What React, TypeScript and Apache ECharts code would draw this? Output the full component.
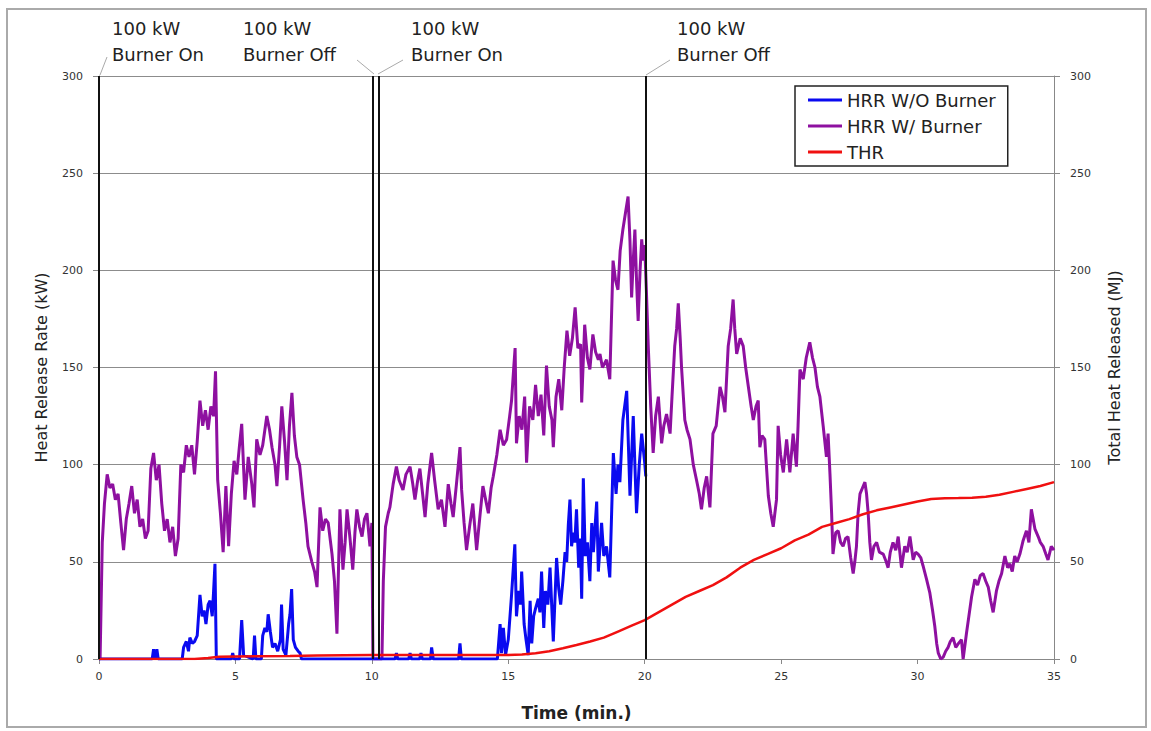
import React, { useEffect, useRef } from "react";
import * as echarts from "echarts";

// ---- Data (time in minutes) ----
const hrrWithBurner: [number, number][] = [
  [0, 0], [0.04, 0], [0.12, 60], [0.2, 80], [0.3, 95], [0.4, 88], [0.5, 90], [0.6, 82], [0.7, 85], [0.8, 70],
  [0.9, 56], [1.0, 72], [1.1, 80], [1.2, 89], [1.3, 75], [1.4, 82], [1.5, 68], [1.6, 72], [1.7, 62], [1.8, 66],
  [1.9, 98], [2.0, 106], [2.1, 92], [2.2, 100], [2.3, 80], [2.4, 66], [2.5, 72], [2.6, 60], [2.7, 68], [2.8, 53],
  [2.9, 62], [3.0, 100], [3.1, 96], [3.2, 110], [3.3, 104], [3.4, 110], [3.5, 95], [3.6, 112], [3.7, 133], [3.8, 120],
  [3.9, 128], [4.0, 118], [4.1, 130], [4.2, 125], [4.27, 148], [4.35, 92], [4.45, 75], [4.55, 55], [4.65, 89], [4.75, 58],
  [4.85, 85], [4.95, 102], [5.05, 95], [5.15, 110], [5.23, 121], [5.35, 82], [5.47, 104], [5.6, 90], [5.68, 78], [5.78, 113],
  [5.9, 105], [6.0, 110], [6.15, 125], [6.25, 118], [6.34, 109], [6.45, 100], [6.52, 89], [6.62, 110], [6.7, 130], [6.8, 112],
  [6.89, 92], [6.98, 120], [7.07, 137], [7.16, 115], [7.25, 104], [7.35, 100], [7.48, 82], [7.58, 70], [7.66, 58], [7.8, 50],
  [7.9, 45], [7.99, 37], [8.1, 78], [8.2, 66], [8.3, 72], [8.4, 70], [8.54, 54], [8.63, 40], [8.72, 13], [8.83, 77],
  [8.94, 46], [9.02, 60], [9.09, 77], [9.2, 62], [9.3, 46], [9.38, 65], [9.45, 77], [9.55, 68], [9.64, 63], [9.73, 72],
  [9.82, 75], [9.93, 58], [10.0, 70], [10.04, 0], [10.37, 0], [10.42, 40], [10.5, 68], [10.6, 75], [10.66, 78], [10.78, 90],
  [10.9, 99], [11.0, 92], [11.14, 87], [11.25, 95], [11.4, 99], [11.5, 90], [11.58, 82], [11.68, 92], [11.76, 98], [11.86, 85],
  [11.95, 73], [12.05, 90], [12.19, 106], [12.3, 92], [12.43, 77], [12.55, 82], [12.68, 68], [12.8, 90], [12.9, 80], [12.98, 73],
  [13.1, 90], [13.23, 109], [13.29, 87], [13.38, 70], [13.47, 56], [13.58, 68], [13.7, 80], [13.84, 56], [13.95, 72], [14.07, 89],
  [14.17, 82], [14.27, 75], [14.37, 88], [14.45, 94], [14.58, 105], [14.7, 118], [14.82, 110], [14.94, 113], [15.05, 125], [15.12, 133],
  [15.2, 150], [15.25, 160], [15.3, 111], [15.4, 125], [15.5, 118], [15.6, 135], [15.67, 101], [15.78, 130], [15.9, 123], [16.0, 141],
  [16.1, 125], [16.2, 136], [16.3, 115], [16.4, 151], [16.5, 130], [16.6, 123], [16.65, 109], [16.75, 135], [16.85, 144], [16.96, 128],
  [17.05, 150], [17.15, 169], [17.25, 156], [17.35, 165], [17.45, 181], [17.55, 160], [17.65, 162], [17.69, 132], [17.8, 172], [17.9, 155],
  [17.99, 149], [18.1, 167], [18.2, 158], [18.3, 154], [18.36, 157], [18.45, 150], [18.6, 154], [18.72, 144], [18.84, 205], [18.93, 195],
  [19.02, 190], [19.1, 210], [19.2, 221], [19.3, 230], [19.39, 238], [19.46, 215], [19.52, 186], [19.58, 205], [19.64, 221], [19.7, 195],
  [19.76, 174], [19.83, 200], [19.89, 216], [19.95, 205], [20.0, 213], [20.06, 190], [20.13, 161], [20.22, 130], [20.31, 106], [20.4, 125],
  [20.5, 135], [20.62, 111], [20.7, 120], [20.8, 126], [20.93, 116], [21.0, 135], [21.1, 161], [21.17, 170], [21.23, 183], [21.3, 165],
  [21.35, 150], [21.47, 123], [21.55, 118], [21.66, 113], [21.78, 100], [21.9, 92], [22.0, 85], [22.08, 77], [22.18, 88], [22.27, 94],
  [22.39, 78], [22.5, 116], [22.62, 120], [22.76, 140], [22.85, 135], [22.94, 127], [23.06, 161], [23.15, 170], [23.24, 185], [23.3, 170],
  [23.37, 157], [23.5, 165], [23.61, 161], [23.7, 150], [23.8, 140], [23.9, 130], [23.98, 123], [24.08, 130], [24.16, 133], [24.22, 109],
  [24.3, 115], [24.4, 113], [24.53, 84], [24.62, 75], [24.71, 68], [24.83, 82], [24.89, 120], [24.98, 105], [25.08, 96], [25.2, 113],
  [25.32, 96], [25.44, 116], [25.56, 99], [25.62, 120], [25.69, 149], [25.81, 144], [25.92, 155], [26.05, 163], [26.15, 155], [26.24, 150],
  [26.33, 140], [26.42, 135], [26.54, 120], [26.66, 104], [26.72, 116], [26.79, 95], [26.85, 75], [26.9, 54], [27.0, 65], [27.09, 66],
  [27.18, 60], [27.27, 58], [27.36, 62], [27.45, 63], [27.55, 52], [27.64, 44], [27.7, 50], [27.76, 58], [27.82, 75], [27.89, 85],
  [27.98, 88], [28.07, 91], [28.13, 85], [28.19, 75], [28.25, 60], [28.31, 51], [28.4, 58], [28.5, 60], [28.6, 55], [28.74, 54],
  [28.85, 50], [28.92, 47], [29.0, 55], [29.1, 60], [29.2, 56], [29.29, 63], [29.41, 47], [29.53, 58], [29.62, 55], [29.72, 63],
  [29.84, 51], [29.93, 55], [30.02, 54], [30.12, 52], [30.2, 48], [30.33, 41], [30.45, 34], [30.55, 25], [30.63, 17], [30.7, 8],
  [30.76, 3], [30.85, 0], [30.94, 1], [31.03, 4], [31.12, 6], [31.2, 9], [31.3, 11], [31.4, 6], [31.5, 8], [31.61, 10],
  [31.67, 0], [31.79, 13], [31.88, 22], [31.98, 32], [32.1, 41], [32.2, 38], [32.3, 43], [32.4, 44], [32.5, 40], [32.59, 37],
  [32.68, 30], [32.77, 24], [32.89, 35], [32.98, 40], [33.08, 44], [33.2, 53], [33.3, 47], [33.38, 49], [33.47, 45], [33.56, 53],
  [33.65, 50], [33.75, 54], [33.87, 61], [33.99, 66], [34.08, 60], [34.17, 77], [34.3, 67], [34.42, 63], [34.5, 60], [34.6, 58],
  [34.7, 54], [34.78, 51], [34.9, 58], [35.0, 56],
];

const hrrWithoutBurner: [number, number][] = [
  [0, 0], [1.95, 0], [2.0, 5], [2.08, 0], [2.12, 5], [2.17, 0], [3.05, 0], [3.1, 6], [3.2, 9], [3.28, 4],
  [3.33, 11], [3.42, 8], [3.5, 9], [3.6, 12], [3.7, 33], [3.78, 22], [3.85, 25], [3.92, 18], [4.0, 28], [4.07, 30],
  [4.15, 22], [4.2, 35], [4.25, 49], [4.3, 0], [4.85, 0], [4.9, 3], [4.95, 0], [5.15, 0], [5.23, 20], [5.3, 2],
  [5.65, 0], [5.7, 12], [5.75, 0], [5.95, 0], [6.0, 12], [6.08, 16], [6.15, 14], [6.2, 23], [6.28, 14], [6.36, 6],
  [6.45, 8], [6.55, 4], [6.65, 10], [6.69, 28], [6.75, 5], [6.85, 2], [6.95, 18], [7.0, 23], [7.06, 36], [7.12, 10],
  [7.2, 6], [7.3, 4], [7.37, 3], [7.42, 0], [10.85, 0], [10.9, 3], [10.95, 0], [11.35, 0], [11.4, 3], [11.45, 0],
  [11.75, 0], [11.8, 3], [11.85, 0], [12.15, 0], [12.19, 6], [12.25, 0], [13.18, 0], [13.23, 8], [13.28, 0], [14.6, 0],
  [14.7, 18], [14.75, 3], [14.82, 16], [14.9, 2], [15.0, 10], [15.12, 33], [15.24, 59], [15.3, 22], [15.38, 35], [15.45, 28],
  [15.49, 45], [15.58, 18], [15.65, 10], [15.73, 2], [15.8, 30], [15.86, 8], [15.93, 22], [16.0, 26], [16.1, 31], [16.16, 24],
  [16.22, 45], [16.3, 16], [16.36, 35], [16.45, 28], [16.53, 47], [16.65, 9], [16.77, 52], [16.85, 36], [16.92, 28], [17.0, 40],
  [17.08, 55], [17.14, 50], [17.2, 69], [17.26, 82], [17.32, 58], [17.38, 65], [17.44, 60], [17.5, 77], [17.58, 47], [17.64, 62],
  [17.69, 31], [17.75, 93], [17.82, 53], [17.9, 60], [17.99, 40], [18.06, 70], [18.12, 55], [18.24, 81], [18.3, 45], [18.42, 70],
  [18.5, 53], [18.6, 58], [18.72, 42], [18.85, 106], [18.95, 85], [19.02, 100], [19.09, 91], [19.2, 123], [19.34, 138], [19.46, 84],
  [19.58, 125], [19.7, 75], [19.8, 100], [19.89, 116], [20.0, 101], [20.04, 94],
];

const thr: [number, number][] = [
  [0, 0], [3.5, 0], [4.0, 0.5], [4.4, 1.2], [5, 1.3], [7, 1.6], [8, 1.8], [10, 2], [15, 2], [15.5, 2.3],
  [16, 3], [16.5, 4], [17, 5.5], [17.5, 7.2], [18, 9], [18.5, 11], [19, 14], [19.5, 17], [20, 20], [20.5, 24],
  [21, 28], [21.5, 32], [22, 35], [22.5, 38], [23, 42], [23.5, 47], [24, 51], [24.5, 54], [25, 57], [25.5, 61],
  [26, 64], [26.5, 68], [27, 70], [27.5, 72], [28, 74.5], [28.5, 76.5], [29, 78], [29.5, 79.5], [30, 81], [30.5, 82.3],
  [31, 82.7], [31.5, 82.8], [32, 83], [32.5, 83.5], [33, 84.5], [33.5, 86], [34, 87.5], [34.5, 89], [35, 91],
];

const burnerEventTimes = [0, 10.05, 10.24, 20.04];
const burnerEventLabels = ["100 kW\nBurner On", "100 kW\nBurner Off", "100 kW\nBurner On", "100 kW\nBurner Off"];
const seriesNames = ["HRR W/O Burner", "HRR W/ Burner", "THR"];

const FONT = "'DejaVu Sans', sans-serif";

export default function App() {
  const ref = useRef<HTMLDivElement>(null);

  useEffect(() => {
    if (!ref.current) return;
    const chart = echarts.init(ref.current, undefined, { renderer: "svg" });

    const labelX = [112, 243, 411, 677];
    const leaders = [
      [107, 57, 100, 75],
      [357, 60, 374, 74],
      [403, 60, 378, 74],
      [670, 60, 646, 75],
    ];

    const option: any = {
      animation: false,
      backgroundColor: "#ffffff",
      grid: { left: 99, right: 97, top: 76, bottom: 72, containLabel: false },
      legend: {
        data: seriesNames,
        orient: "vertical",
        left: 795,
        top: 86,
        icon: "rect",
        itemWidth: 34,
        itemHeight: 3,
        itemGap: 6,
        padding: [4, 12, 4, 13],
        borderColor: "#222",
        borderWidth: 1.5,
        backgroundColor: "#fff",
        textStyle: { fontFamily: FONT, fontSize: 18, color: "#222", lineHeight: 20 },
      },
      xAxis: {
        type: "value",
        min: 0,
        max: 35,
        interval: 5,
        name: "Time (min.)",
        nameLocation: "middle",
        nameGap: 45,
        nameTextStyle: { fontFamily: FONT, fontSize: 17, fontWeight: "bold", color: "#222" },
        axisLine: { show: true, lineStyle: { color: "#888", width: 1 } },
        axisTick: { show: true, inside: false, length: 5, lineStyle: { color: "#888" } },
        axisLabel: { fontFamily: FONT, fontSize: 11, color: "#333", margin: 12 },
        splitLine: { show: false },
      },
      yAxis: [
        {
          type: "value",
          min: 0,
          max: 300,
          interval: 50,
          name: "Heat Release Rate (kW)",
          nameLocation: "middle",
          nameGap: 50,
          nameTextStyle: { fontFamily: FONT, fontSize: 16, color: "#222" },
          axisLine: { show: true, lineStyle: { color: "#888", width: 1 } },
          axisTick: { show: true, inside: false, length: 6, lineStyle: { color: "#888" } },
          axisLabel: { fontFamily: FONT, fontSize: 11, color: "#333", margin: 16 },
          splitLine: { show: true, lineStyle: { color: "#8c8c8c", width: 1 } },
        },
        {
          type: "value",
          min: 0,
          max: 300,
          interval: 50,
          position: "right",
          name: "Total Heat Released (MJ)",
          nameLocation: "middle",
          nameGap: 52,
          nameRotate: 90,
          nameTextStyle: { fontFamily: FONT, fontSize: 16, color: "#222" },
          axisLine: { show: true, lineStyle: { color: "#888", width: 1 } },
          axisTick: { show: true, inside: false, length: 6, lineStyle: { color: "#888" } },
          axisLabel: { fontFamily: FONT, fontSize: 11, color: "#333", margin: 16 },
          splitLine: { show: false },
        },
      ],
      series: [
        {
          name: seriesNames[0],
          type: "line",
          data: hrrWithoutBurner,
          showSymbol: false,
          symbol: "none",
          z: 3,
          lineStyle: { color: "#0a0af0", width: 3 },
          itemStyle: { color: "#0a0af0" },
        },
        {
          name: seriesNames[1],
          type: "line",
          data: hrrWithBurner,
          showSymbol: false,
          symbol: "none",
          z: 2,
          lineStyle: { color: "#8e10a0", width: 3 },
          itemStyle: { color: "#8e10a0" },
        },
        {
          name: seriesNames[2],
          type: "line",
          yAxisIndex: 1,
          data: thr,
          showSymbol: false,
          symbol: "none",
          z: 4,
          lineStyle: { color: "#f01010", width: 2.5 },
          itemStyle: { color: "#f01010" },
          markLine: {
            silent: true,
            symbol: ["none", "none"],
            label: { show: false },
            lineStyle: { color: "#111", width: 2, type: "solid" },
            emphasis: { disabled: true },
            data: burnerEventTimes.map((t) => ({ xAxis: t })),
          },
        },
      ],
      graphic: [
        {
          type: "rect",
          shape: { x: 7, y: 9, width: 1139, height: 718 },
          style: { fill: "none", stroke: "#aaaaaa", lineWidth: 2 },
          silent: true,
          z: -10,
        },
        ...burnerEventLabels.map((txt, i) => ({
          type: "text",
          x: labelX[i],
          y: 15,
          style: {
            text: txt,
            font: `18px ${FONT}`,
            fill: "#222",
            lineHeight: 26,
          },
          silent: true,
        })),
        ...leaders.map((l) => ({
          type: "line",
          shape: { x1: l[0], y1: l[1], x2: l[2], y2: l[3] },
          style: { stroke: "#aaaaaa", lineWidth: 1 },
          silent: true,
        })),
      ],
    };

    chart.setOption(option);
    return () => chart.dispose();
  }, []);

  return (
    <div
      ref={ref}
      style={{ position: "absolute", left: 0, top: 0, width: 1151, height: 731, background: "#fff" }}
    />
  );
}
